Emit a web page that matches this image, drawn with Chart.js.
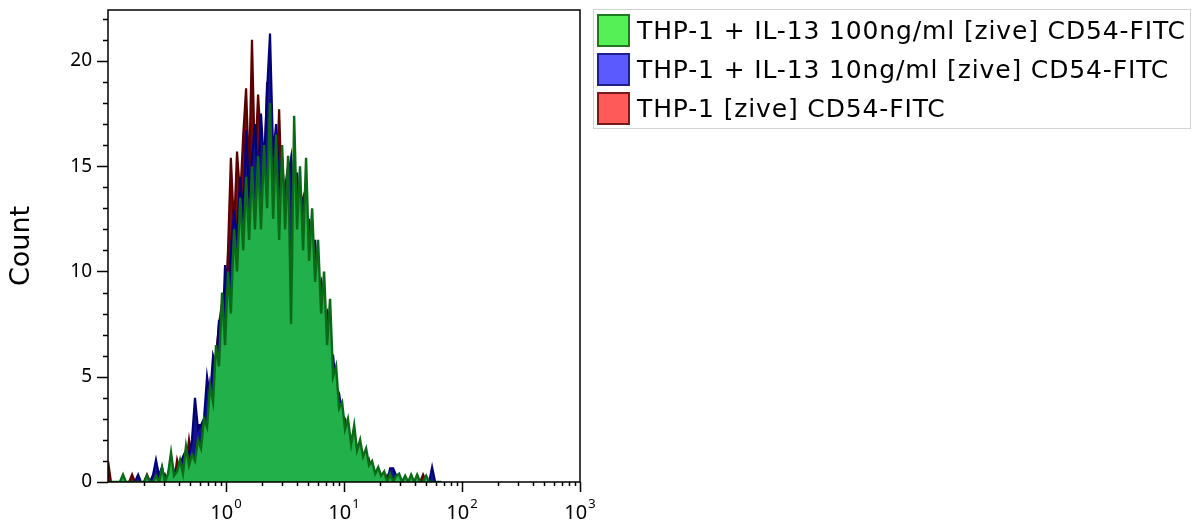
<!DOCTYPE html>
<html>
<head>
<meta charset="utf-8">
<script src="https://cdn.jsdelivr.net/npm/chart.js@4.4.1/dist/chart.umd.min.js"></script>
<style>
  body { margin: 0; background: #fff; }
  #histo { display: block; }
</style>
</head>
<body>
<canvas id="histo" width="1202" height="522"></canvas>
<script>
// Histogram channels (CD54-FITC intensity), shared by all three samples
const channelBins = [
    0.1, 0.106, 0.112, 0.119, 0.126, 0.134, 0.142, 0.151, 0.160, 0.169,
    0.180, 0.190, 0.202, 0.214, 0.227, 0.241, 0.255, 0.271, 0.287, 0.304,
    0.323, 0.342, 0.363, 0.385, 0.408, 0.432, 0.458, 0.486, 0.515, 0.546,
    0.579, 0.614, 0.651, 0.691, 0.732, 0.777, 0.823, 0.873, 0.926, 0.982,
    1.04, 1.10, 1.17, 1.24, 1.32, 1.40, 1.48, 1.57, 1.66, 1.76,
    1.87, 1.98, 2.10, 2.23, 2.36, 2.51, 2.66, 2.82, 2.99, 3.17,
    3.36, 3.56, 3.78, 4.00, 4.24, 4.50, 4.77, 5.06, 5.37, 5.69,
    6.03, 6.40, 6.78, 7.19, 7.62, 8.08, 8.57, 9.09, 9.64, 10.2,
    10.8, 11.5, 12.2, 12.9, 13.7, 14.5, 15.4, 16.3, 17.3, 18.4,
    19.5, 20.6, 21.9, 23.2, 24.6, 26.1, 27.7, 29.3, 31.1, 33.0,
    35.0, 37.1, 39.3, 41.7, 44.2, 46.8, 49.7, 52.7, 55.8, 59.2,
    62.8, 66.6
];

const countIL13High = [
    0, 0, 0, 0, 0, 0.35, 0, 0, 0, 0,
    0, 0, 0, 0.3, 0, 0, 0.3, 0, 0.7, 0,
    0.4, 1.4, 0.3, 0.5, 1.05, 0.4, 1.7, 0.8, 1.3, 1.0,
    2.0, 1.6, 3.0, 2.6, 4.6, 3.8, 6.5, 5.5, 9.0, 6.5,
    10, 8, 12, 10, 13.5, 11, 14.5, 11.5, 15, 12,
    15.5, 12, 16, 13, 18, 12.5, 16.5, 11.5, 16, 12,
    15.5, 7.5, 17.4, 12, 15, 11, 15.4, 10.5, 13, 9.5,
    11.5, 8, 10, 6.5, 8.7, 5, 5.5, 3.5, 3.8, 2.5,
    3.0, 1.8, 2.7, 1.5, 2.0, 1.2, 1.6, 0.8, 1.0, 0.4,
    0.7, 0.3, 0.5, 0, 0.4, 0, 0.3, 0.4, 0, 0.3,
    0, 0.35, 0, 0.35, 0, 0, 0.3, 0, 0, 0,
    0, 0
];

const countIL13Low = [
    0, 0, 0, 0, 0, 0, 0, 0, 0, 0,
    0.35, 0, 0, 0, 0, 0.35, 1.05, 0.3, 0.7, 0,
    0.35, 1.05, 0.5, 0.3, 0.8, 1.2, 1.5, 1.3, 2.0, 4.0,
    2.5, 2.7, 3.0, 5.0, 4.0, 6.0, 5.5, 7.7, 6.5, 10.3,
    8.5, 11, 12.9, 11.5, 14.5, 12.5, 16.7, 13.5, 15.4, 17,
    14, 17.5, 15, 18.6, 21.3, 15.5, 17, 14, 15.4, 13,
    14.5, 15.4, 12.5, 14.7, 12, 13.5, 11, 12.5, 10.5, 11.5,
    9, 9.5, 7.5, 8, 6, 6, 4.5, 4.2, 3.2, 3.0,
    2.2, 2.0, 1.8, 1.4, 1.0, 1.0, 0.7, 0.5, 0.4, 0.3,
    0.2, 0.3, 0, 0, 0.65, 0.65, 0.3, 0, 0, 0,
    0, 0, 0, 0, 0, 0, 0, 0, 0.7, 0,
    0, 0
];

const countControl = [
    1.0, 0, 0, 0, 0, 0, 0, 0, 0.35, 0,
    0, 0, 0, 0.35, 0, 0, 0, 0, 0, 0.35,
    0, 0.3, 0, 1.05, 0.5, 0.3, 0.8, 2.0, 1.0, 1.5,
    2.7, 2.7, 2.5, 3.5, 4.5, 4.0, 6.0, 7.5, 8.5, 8.0,
    11, 15.4, 12, 15.7, 13.5, 16.5, 18.7, 14.5, 21, 15,
    18.4, 16.1, 14, 19, 15, 16, 13.5, 17.7, 13, 14,
    15, 12.5, 15.4, 12, 13, 13.5, 11, 11.5, 10, 10.5,
    8.5, 8.5, 7, 7, 5.5, 5, 4, 3.8, 3, 2.7,
    2.2, 2.0, 1.6, 1.2, 1.0, 0.8, 0.6, 1.05, 0.5, 0.4,
    0.65, 0.3, 0, 0.3, 0, 0, 0, 0, 0, 0,
    0, 0, 0, 0, 0, 0.35, 0, 0, 0, 0,
    0, 0
];

const seriesLabels = [
    'THP-1 + IL-13 100ng/ml [zive] CD54-FITC',
    'THP-1 + IL-13 10ng/ml [zive] CD54-FITC',
    'THP-1 [zive] CD54-FITC'
];

// Axis ticks
const xMajorTicks = [1, 10, 100, 1000];
const xTickExponents = ['0', '1', '2', '3'];
const xMinorTicks = [
    0.2, 0.3, 0.4, 0.5, 0.6, 0.7, 0.8, 0.9,
    2, 3, 4, 5, 6, 7, 8, 9,
    20, 30, 40, 50, 60, 70, 80, 90,
    200, 300, 400, 500, 600, 700, 800, 900
];
const yLabelTicks = [0, 5, 10, 15, 20];

const fontFamily = '"Noto Sans", "DejaVu Sans", sans-serif';
const legendFont = '25px "DejaVu Sans", sans-serif';
const legendFills = ['#55f055', '#5a5aff', '#ff5a5a'];
const legendEdges = ['#1f7a1f', '#20208a', '#7a1a1a'];

function toPoints(values) {
    return channelBins.map((x, i) => ({ x: x, y: values[i] }));
}

// Frame, tick marks, the 10^n labels and the boxed legend
const axisDecor = {
    id: 'axisDecor',
    afterDatasetsDraw(chart) {
        const { ctx, chartArea: a, scales: { x, y } } = chart;
        ctx.save();
        ctx.strokeStyle = '#000';
        ctx.lineWidth = 1.5;
        ctx.strokeRect(a.left, a.top, a.right - a.left, a.bottom - a.top);

        ctx.beginPath();
        for (let v = 0; v <= y.max; v++) {
            const py = Math.round(y.getPixelForValue(v)) + 0.5;
            const len = v % 5 === 0 ? 11 : 5;
            ctx.moveTo(a.left, py);
            ctx.lineTo(a.left - len, py);
        }
        xMinorTicks.forEach(v => {
            const px = Math.round(x.getPixelForValue(v)) + 0.5;
            ctx.moveTo(px, a.bottom);
            ctx.lineTo(px, a.bottom + 4);
        });
        xMajorTicks.forEach(v => {
            const px = Math.round(x.getPixelForValue(v)) + 0.5;
            ctx.moveTo(px, a.bottom);
            ctx.lineTo(px, a.bottom + 10);
        });
        ctx.stroke();

        ctx.fillStyle = '#000';
        ctx.textBaseline = 'alphabetic';
        xMajorTicks.forEach((v, i) => {
            const px = x.getPixelForValue(v);
            ctx.font = '20px ' + fontFamily;
            const w1 = ctx.measureText('10').width;
            ctx.font = '13px ' + fontFamily;
            const w2 = ctx.measureText(xTickExponents[i]).width;
            const start = px - (w1 + w2 + 1) / 2;
            ctx.font = '20px ' + fontFamily;
            ctx.fillText('10', start, 519);
            ctx.font = '13px ' + fontFamily;
            ctx.fillText(xTickExponents[i], start + w1 + 1, 508);
        });
        ctx.restore();
    },
    afterDraw(chart) {
        const ctx = chart.ctx;
        ctx.save();
        ctx.strokeStyle = '#d2d2d2';
        ctx.lineWidth = 1;
        ctx.strokeRect(593.5, 9.5, 597, 119);
        ctx.font = legendFont;
        ctx.textBaseline = 'middle';
        // stretch the text a little so the longest line ends where the original does
        const natural = ctx.measureText(chart.data.datasets[0].label).width;
        const spacing = (548 - natural) / (chart.data.datasets[0].label.length - 1);
        ctx.letterSpacing = spacing.toFixed(2) + 'px';
        chart.data.datasets.forEach((ds, i) => {
            const top = 14 + i * 39;
            ctx.fillStyle = legendFills[i];
            ctx.fillRect(597, top, 33, 33);
            ctx.strokeStyle = legendEdges[i];
            ctx.lineWidth = 2;
            ctx.strokeRect(598, top + 1, 31, 31);
            ctx.fillStyle = '#000';
            ctx.fillText(ds.label, 637, top + 18);
        });
        ctx.restore();
    }
};

const ctx = document.getElementById('histo').getContext('2d');
const chart = new Chart(ctx, {
    type: 'line',
    data: {
        datasets: [{
            label: seriesLabels[0],
            data: toPoints(countIL13High),
            backgroundColor: '#22b04a',
            borderColor: '#0b6a17',
            borderWidth: 2.4,
            fill: 'origin'
        }, {
            label: seriesLabels[1],
            data: toPoints(countIL13Low),
            backgroundColor: '#16168c',
            borderColor: '#000078',
            borderWidth: 2.2,
            fill: 'origin'
        }, {
            label: seriesLabels[2],
            data: toPoints(countControl),
            backgroundColor: '#7a0c0c',
            borderColor: '#5c0000',
            borderWidth: 2.2,
            fill: 'origin'
        }]
    },
    options: {
        responsive: false,
        animation: false,
        events: [],
        elements: {
            point: { radius: 0 },
            line: { tension: 0 }
        },
        layout: {
            padding: { top: 10, right: 622, bottom: 0, left: 0 }
        },
        scales: {
            x: {
                type: 'logarithmic',
                min: 0.1,
                max: 1000,
                grid: { display: false },
                border: { display: false },
                ticks: { display: false },
                afterFit(scale) {
                    scale.height = 40;
                    scale.paddingLeft = 0;
                    scale.paddingRight = 0;
                }
            },
            y: {
                type: 'linear',
                min: 0,
                max: 22.42,
                afterFit(scale) {
                    scale.width = 108;
                    scale.paddingTop = 0;
                    scale.paddingBottom = 0;
                },
                afterBuildTicks(scale) {
                    scale.ticks = yLabelTicks.map(v => ({ value: v }));
                },
                grid: { display: false, drawTicks: false },
                border: { display: false },
                ticks: {
                    padding: 16,
                    color: '#000',
                    font: { family: fontFamily, size: 19 }
                },
                title: {
                    display: true,
                    text: 'Count',
                    color: '#000',
                    padding: { top: 6, bottom: 0 },
                    font: { family: '"DejaVu Sans", sans-serif', size: 27 }
                }
            }
        },
        plugins: {
            legend: { display: false },
            tooltip: { enabled: false }
        }
    },
    plugins: [axisDecor]
});
</script>
</body>
</html>
